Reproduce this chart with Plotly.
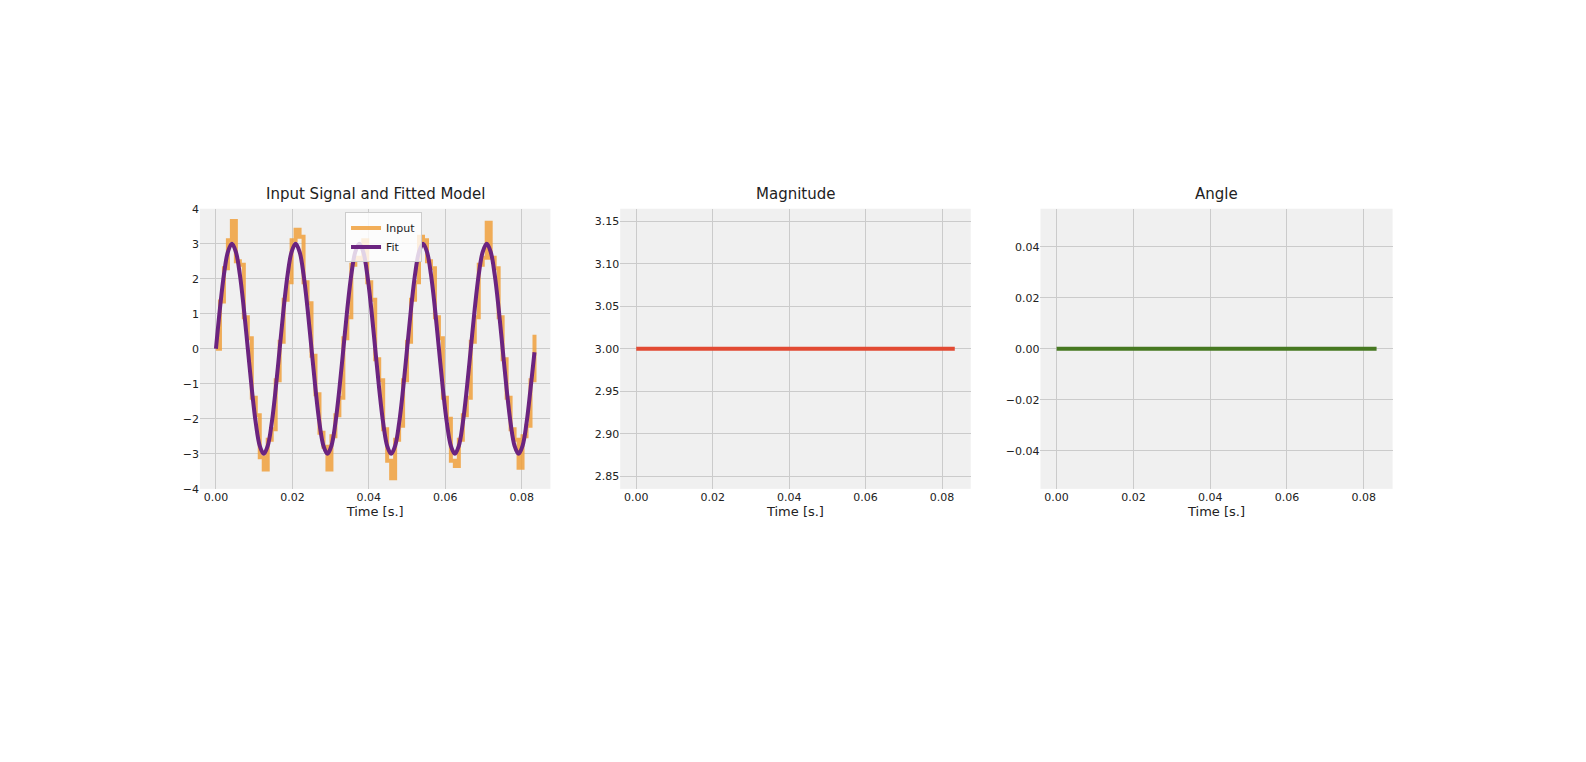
import numpy as np
import plotly.graph_objects as go

# sample times [s.] (81 samples over 1/12 s)
time = list(np.linspace(0, 1 / 12, 81))

fit = [0.0, 1.15, 2.12, 2.77, 3.0, 2.77, 2.12, 1.15, 0.0, -1.15, -2.12, -2.77, -3.0, -2.77, -2.12, -1.15,
       0.0, 1.15, 2.12, 2.77, 3.0, 2.77, 2.12, 1.15, 0.0, -1.15, -2.12, -2.77, -3.0, -2.77, -2.12, -1.15,
       0.0, 1.15, 2.12, 2.77, 3.0, 2.77, 2.12, 1.15, 0.0, -1.15, -2.12, -2.77, -3.0, -2.77, -2.12, -1.15,
       0.0, 1.15, 2.12, 2.77, 3.0, 2.77, 2.12, 1.15, 0.0, -1.15, -2.12, -2.77, -3.0, -2.77, -2.12, -1.15,
       0.0, 1.15, 2.12, 2.77, 3.0, 2.77, 2.12, 1.15, 0.0, -1.15, -2.12, -2.77, -3.0, -2.77, -2.12, -1.15,
       -0.1]

signal = [0.0, 1.35, 2.3, 3.1, 3.65, 2.5, 2.4, 0.9, 0.3, -1.4, -1.9, -3.1, -3.45, -2.6, -2.3, -0.9,
          0.2, 1.4, 1.9, 3.1, 3.4, 3.2, 1.9, 1.3, -0.2, -1.3, -2.4, -2.8, -3.45, -2.5, -1.9, -1.4,
          0.3, 0.9, 2.4, 2.6, 2.55, 3.1, 1.9, 1.4, -0.3, -0.9, -2.3, -3.2, -3.7, -2.6, -2.2, -0.9,
          0.2, 1.4, 1.9, 3.2, 3.1, 2.5, 2.3, 0.9, 0.3, -1.4, -2.0, -3.2, -3.35, -2.6, -1.9, -1.4,
          0.2, 0.9, 2.4, 2.6, 3.6, 2.6, 2.3, 0.9, -0.3, -1.4, -2.3, -2.6, -3.4, -2.5, -2.2, -0.9,
          0.4]

magnitude = [3.0] * 81
angle = [0.0] * 81

fig = go.Figure()
fig.add_trace(go.Scatter(x=time, y=signal, name="Input", line=dict(color="rgba(240,160,60,0.85)", width=4, shape="hv"),
                         xaxis="x", yaxis="y"))
fig.add_trace(go.Scatter(x=time, y=fit, name="Fit", line=dict(color="#6b2480", width=4, shape="spline"),
                         xaxis="x", yaxis="y"))
fig.add_trace(go.Scatter(x=time, y=magnitude, line=dict(color="#e24a33", width=4), showlegend=False,
                         xaxis="x2", yaxis="y2"))
fig.add_trace(go.Scatter(x=time, y=angle, line=dict(color="#467821", width=4), showlegend=False,
                         xaxis="x3", yaxis="y3"))

grid = dict(showgrid=True, gridcolor="#cbcbcb", gridwidth=1, zeroline=False, showline=False,
            tickfont=dict(size=11, color="#222"), ticks="")
xcommon = dict(grid, range=[-0.0042, 0.0875], tickvals=[0, 0.02, 0.04, 0.06, 0.08],
               tickformat=".2f", title=dict(text="Time [s.]", font=dict(size=13, color="#222"), standoff=2))
doms = [(0.121, 0.342), (0.386, 0.607), (0.651, 0.873)]
ydom = [0.366, 0.740]

layout = dict(
    width=1586, height=762, paper_bgcolor="white", plot_bgcolor="#f0f0f0",
    margin=dict(l=0, r=0, t=0, b=0),
    font=dict(family="DejaVu Sans", color="#222"),
    legend=dict(x=0.2125, y=0.735, xanchor="left", yanchor="top", bgcolor="rgba(255,255,255,0.8)",
                bordercolor="#ccc", borderwidth=1, font=dict(size=11), tracegroupgap=0),
)
for i, (d, suf) in enumerate(zip(doms, ["", "2", "3"])):
    layout["xaxis" + suf] = dict(xcommon, domain=list(d), anchor="y" + suf)
layout["yaxis"] = dict(grid, domain=ydom, anchor="x", range=[-4, 4], dtick=1)
layout["yaxis2"] = dict(grid, domain=ydom, anchor="x2", range=[2.835, 3.165],
                        tickvals=[2.85, 2.9, 2.95, 3.0, 3.05, 3.1, 3.15], tickformat=".2f")
layout["yaxis3"] = dict(grid, domain=ydom, anchor="x3", range=[-0.055, 0.055],
                        tickvals=[-0.04, -0.02, 0, 0.02, 0.04], tickformat=".2f")
fig.update_layout(**layout)

for title, d in zip(["Input Signal and Fitted Model", "Magnitude", "Angle"], doms):
    fig.add_annotation(text=title, x=(d[0] + d[1]) / 2, y=0.745, xref="paper", yref="paper",
                       xanchor="center", yanchor="bottom", showarrow=False, font=dict(size=15, color="#222"))

fig.write_html("out.html")
